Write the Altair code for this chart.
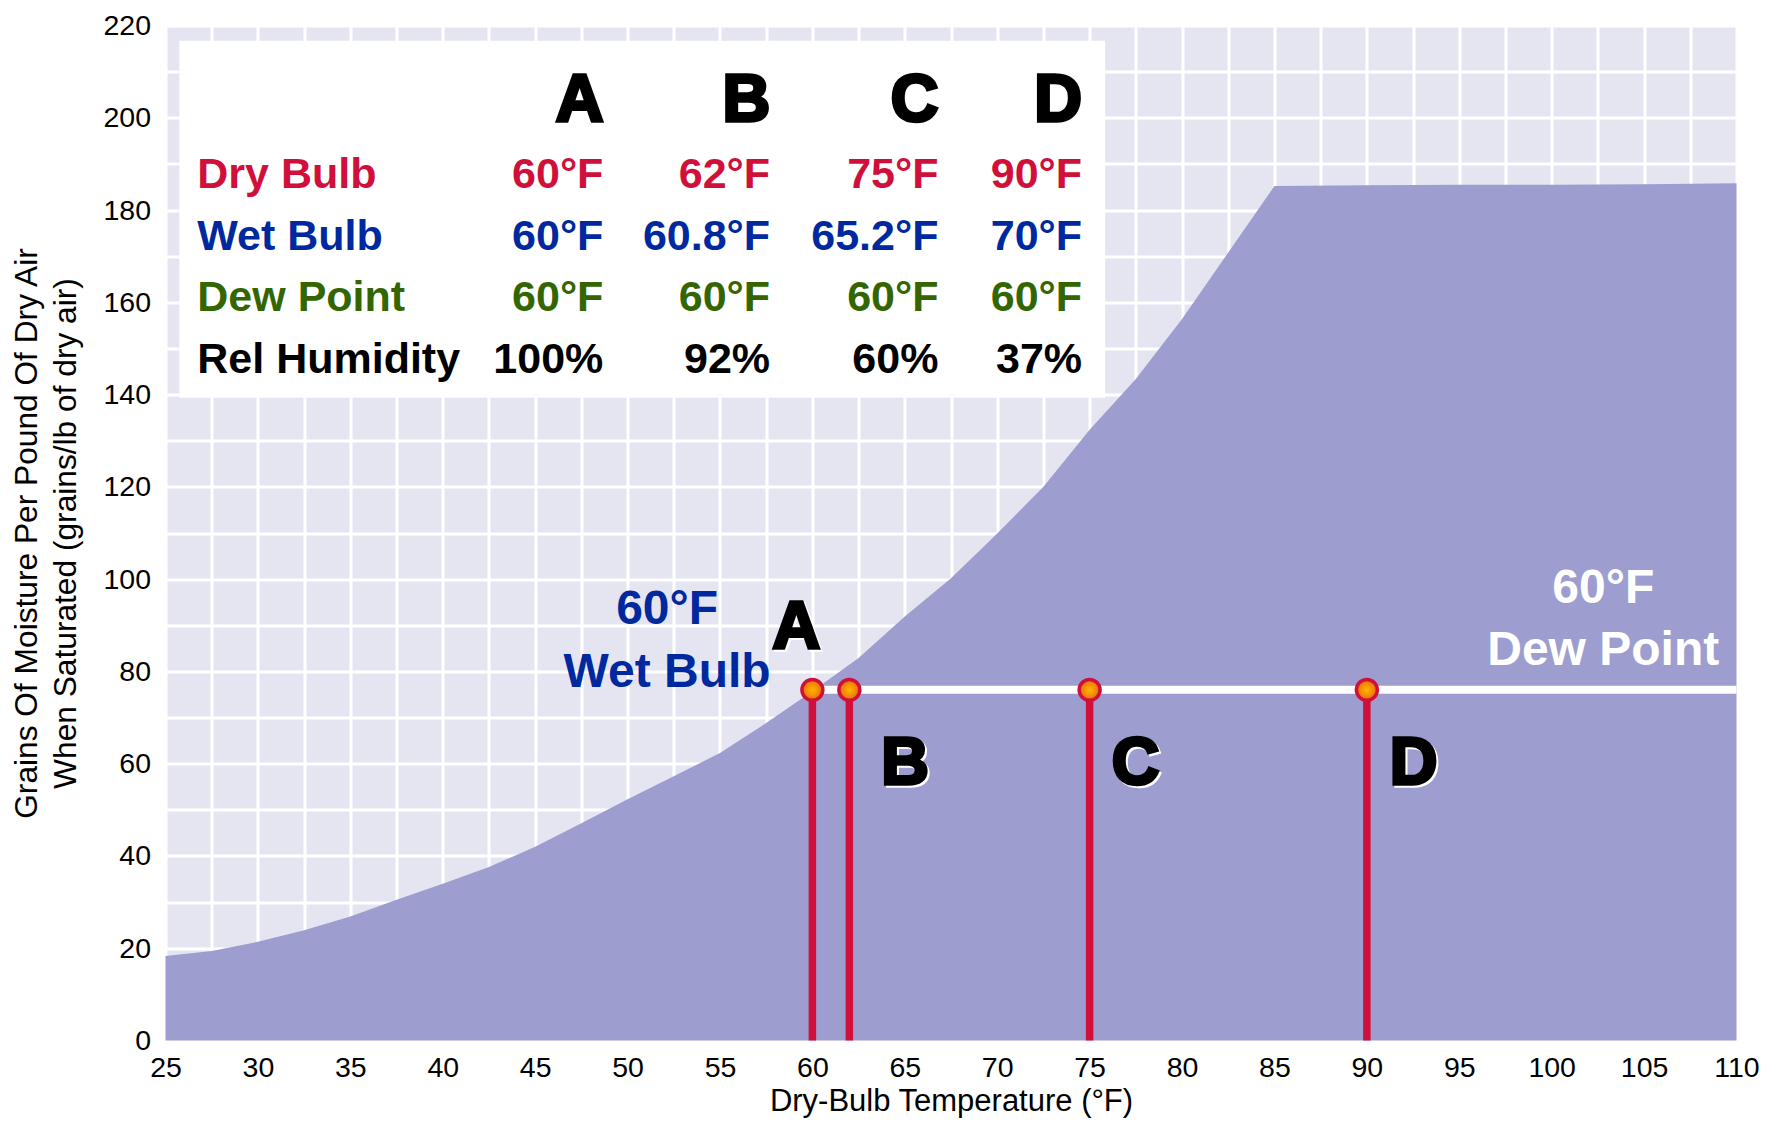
import altair as alt
import pandas as pd

# ---------------- data ----------------
# saturation curve (grains of moisture per lb of dry air)
curve_temp = [25, 27.5, 30, 32.5, 35, 37.5, 40, 42.5, 45, 47.5, 50, 52.5, 55, 57.5,
              60, 62.5, 65, 67.5, 70, 72.5, 75, 77.5, 80, 82.5, 85, 90, 95, 100, 105, 110]
curve_grains = [18.3, 19.4, 21.4, 23.9, 26.9, 30.5, 34.0, 37.6, 42.0, 47.1, 52.3, 57.3, 62.3, 68.8,
                75.7, 82.9, 91.9, 100.2, 109.9, 120.0, 132.4, 143.4, 156.4, 170.8, 185.2,
                185.4, 185.5, 185.5, 185.6, 185.8]

points = ["A", "B", "C", "D"]
dry_bulb = [60, 62, 75, 90]
wet_bulb = [60, 60.8, 65.2, 70]
dew_point = [60, 60, 60, 60]
rel_humidity = [100, 92, 60, 37]
dew_point_grains = 76.0

row_labels = ["Dry Bulb", "Wet Bulb", "Dew Point", "Rel Humidity"]

x_ticks = [25 + 2.5 * i for i in range(35)]
y_ticks = list(range(0, 221, 10))

# ---------------- layout / style constants ----------------
FONT = "Liberation Sans"
RED = "#D0103A"
BLUE = "#00299F"
GREEN = "#336600"
AREA = "#9D9ECF"
BG = "#E5E5F2"

TABLE_BOX = (25.75, 75.84, 139.3, 216.7)
COL_X = [48.69, 57.71, 66.82, 74.59]
ROW_LABEL_X = 26.72
HEADER_Y = 203.7
ROW_Y = [187.6, 174.2, 161.0, 147.5]

PLOT_W, PLOT_H = 1571, 1015

X_AXIS = alt.Axis(values=x_ticks, format="d",
                  labelExpr="datum.value % 5 === 0 ? datum.label : ''",
                  labelOverlap=False, labelFlush=False, labelFont=FONT, labelFontSize=28.5,
                  labelColor="black", labelPadding=13, ticks=False, tickSize=0, domain=False,
                  grid=True, gridColor="white", gridWidth=3, gridOpacity=1,
                  title="Dry-Bulb Temperature (°F)", titleFont=FONT, titleFontSize=31,
                  titleFontWeight="normal", titleColor="black", titleY=46,
                  titleBaseline="top")
Y_AXIS = alt.Axis(values=y_ticks, format="d",
                  labelExpr="datum.value % 20 === 0 ? datum.label : ''",
                  labelOverlap=False, labelFlush=False, labelFont=FONT, labelFontSize=28.5,
                  labelColor="black", labelPadding=15, ticks=False, tickSize=0, domain=False,
                  grid=True, gridColor="white", gridWidth=3, gridOpacity=1,
                  title=["Grains Of Moisture Per Pound Of Dry Air",
                         "When Saturated (grains/lb of dry air)"],
                  titleFont=FONT, titleFontSize=31.7, titleFontWeight="normal",
                  titleColor="black", titleAngle=270, titleBaseline="bottom",
                  titleAlign="center", titleX=-122, titleY=PLOT_H / 2,
                  titleLineHeight=38.5)
X_SCALE = alt.Scale(domain=[25, 110], nice=False, zero=False)
Y_SCALE = alt.Scale(domain=[0, 220], nice=False, zero=True)


def X():
    return alt.X("x:Q", scale=X_SCALE, axis=X_AXIS)


def Y():
    return alt.Y("y:Q", scale=Y_SCALE, axis=Y_AXIS)


# ---------------- saturation area ----------------
curve_df = pd.DataFrame({"x": curve_temp, "y": curve_grains})
area = alt.Chart(curve_df).mark_area(color=AREA, opacity=1, interpolate="linear").encode(
    x=X(), y=Y())

# ---------------- table box ----------------
box_df = pd.DataFrame({"x": [TABLE_BOX[0]], "x2": [TABLE_BOX[1]],
                       "y": [TABLE_BOX[2]], "y2": [TABLE_BOX[3]]})
box = alt.Chart(box_df).mark_rect(color="white", opacity=1).encode(
    x=X(), x2="x2:Q", y=Y(), y2="y2:Q")


def fmt_f(v):
    return f"{v:g}°F"


row_values = [
    [fmt_f(v) for v in dry_bulb],
    [fmt_f(v) for v in wet_bulb],
    [fmt_f(v) for v in dew_point],
    [f"{v:g}%" for v in rel_humidity],
]
row_colors = [RED, BLUE, GREEN, "black"]

lab_rows, val_rows = [], []
for i, (lab, vals, col) in enumerate(zip(row_labels, row_values, row_colors)):
    lab_rows.append({"x": ROW_LABEL_X, "y": ROW_Y[i], "t": lab, "c": col})
    for j, v in enumerate(vals):
        val_rows.append({"x": COL_X[j], "y": ROW_Y[i], "t": v, "c": col})

row_label_text = alt.Chart(pd.DataFrame(lab_rows)).mark_text(
    font=FONT, fontSize=43, fontWeight="bold", align="left", baseline="middle").encode(
    x=X(), y=Y(), text="t:N", color=alt.Color("c:N", scale=None))

value_text = alt.Chart(pd.DataFrame(val_rows)).mark_text(
    font=FONT, fontSize=43, fontWeight="bold", align="right", baseline="middle").encode(
    x=X(), y=Y(), text="t:N", color=alt.Color("c:N", scale=None))

header_df = pd.DataFrame({"x": COL_X, "y": [HEADER_Y] * 4, "t": points})
header_text = alt.Chart(header_df).mark_text(
    font=FONT, fontSize=66, fontWeight="bold", align="right", baseline="middle",
    color="black", stroke="black", strokeWidth=3.5).encode(x=X(), y=Y(), text="t:N")

# ---------------- dew point line, drop lines, dots ----------------
dew_df = pd.DataFrame({"x": [dry_bulb[0]], "x2": [110], "y": [dew_point_grains]})
dew_line = alt.Chart(dew_df).mark_rule(color="white", strokeWidth=8).encode(
    x=X(), x2="x2:Q", y=Y())

drop_df = pd.DataFrame({"x": dry_bulb, "y": [0] * 4, "y2": [dew_point_grains] * 4})
drops = alt.Chart(drop_df).mark_rule(color=RED, strokeWidth=7.5).encode(
    x=X(), y=Y(), y2="y2:Q")

dot_df = pd.DataFrame({"x": dry_bulb, "y": [dew_point_grains] * 4})
dots = alt.Chart(dot_df).mark_point(
    filled=True, shape="circle", size=440, opacity=1,
    fill=alt.RadialGradient(gradient="radial",
                            stops=[alt.GradientStop(color="#FFB800", offset=0),
                                   alt.GradientStop(color="#EA6A0C", offset=1)]),
    stroke=RED, strokeWidth=3.5).encode(x=X(), y=Y())

# ---------------- annotations ----------------
LETTER_POS = {"A": (59.13, 89.4), "B": (65.02, 60.0), "C": (77.48, 60.0), "D": (92.53, 60.0)}
letters_df = pd.DataFrame({"x": [LETTER_POS[p][0] for p in points],
                           "y": [LETTER_POS[p][1] for p in points], "t": points})
letters_shadow = alt.Chart(letters_df).mark_text(
    font=FONT, fontSize=66, fontWeight="bold", align="center", baseline="middle",
    color="white", stroke="white", strokeWidth=3.5, dx=2, dy=2).encode(x=X(), y=Y(), text="t:N")
letters = alt.Chart(letters_df).mark_text(
    font=FONT, fontSize=66, fontWeight="bold", align="center", baseline="middle",
    color="black", stroke="black", strokeWidth=3.5).encode(x=X(), y=Y(), text="t:N")

wet_df = pd.DataFrame({"x": [52.14, 52.14], "y": [93.3, 79.6],
                       "t": [fmt_f(wet_bulb[0]), "Wet Bulb"]})
wet_note = alt.Chart(wet_df).mark_text(
    font=FONT, fontSize=48, fontWeight="bold", align="center", baseline="middle",
    color=BLUE).encode(x=X(), y=Y(), text="t:N")

dewn_df = pd.DataFrame({"x": [102.79, 102.79], "y": [97.8, 84.4],
                        "t": [fmt_f(dew_point[0]), "Dew Point"]})
dew_note = alt.Chart(dewn_df).mark_text(
    font=FONT, fontSize=48, fontWeight="bold", align="center", baseline="middle",
    color="white").encode(x=X(), y=Y(), text="t:N")

chart = alt.layer(
    area, box, dew_line, drops, dots,
    row_label_text, value_text, header_text,
    letters_shadow, letters, wet_note, dew_note,
).properties(
    width=PLOT_W, height=PLOT_H,
    autosize=alt.AutoSizeParams(type="none"),
    padding={"left": 157.5, "top": 17.5, "right": 22, "bottom": 78},
    background="white",
).configure_view(fill=BG, stroke="transparent")

chart.save("out.html", embed_options={"renderer": "svg", "actions": False})
